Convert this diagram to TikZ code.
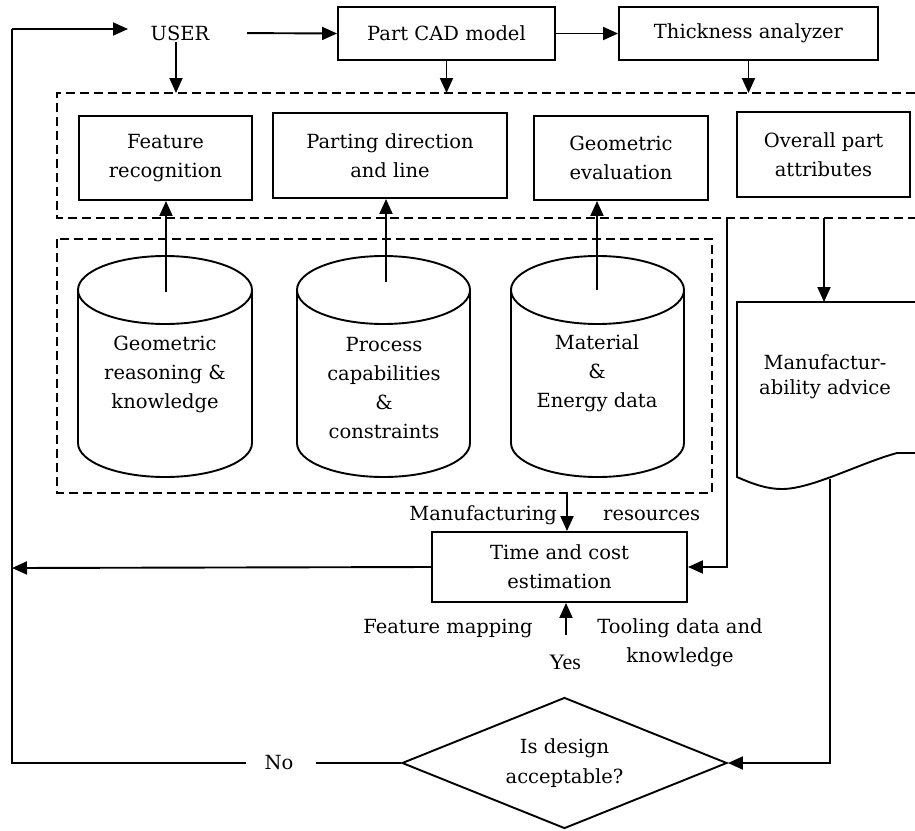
\documentclass[tikz,border=0pt]{standalone}
\usepackage{fontspec}
\setmainfont{DejaVu Serif}
\newfontfamily\yesfont{Liberation Serif}
\usetikzlibrary{arrows.meta,shapes.geometric}
\newcommand\txt{\fontsize{19.5}{29}\selectfont}
\tikzset{
  ln/.style={line width=1.9pt},
  arr/.style={ln,-{Triangle[length=15pt,width=13pt]}},
  dbox/.style={line width=1.8pt,dash pattern=on 9pt off 5pt},
  blk/.style={draw,line width=1.9pt,align=center,font=\txt,inner sep=0pt},
  lbl/.style={align=center,font=\txt,inner sep=1pt},
}
\begin{document}
\begin{tikzpicture}[x=1pt,y=-1pt]
\useasboundingbox (0,0) rectangle (915,830);

% top row
\node[lbl,minimum width=104pt] (user) at (180,33) {USER};
\node[blk,minimum width=217pt,minimum height=53pt] (cad) at (446.5,33.5) {Part CAD model};
\node[blk,minimum width=259pt,minimum height=53pt] (thick) at (748.5,33.5) {Thickness analyzer};

% upper dashed region
\draw[dbox] (915,93) -- (57,93) -- (57,218) -- (915,218);
\coordinate (uin) at (176,93);

\node[blk,minimum width=173pt,minimum height=84pt] (fr) at (165.5,158) {Feature\\recognition};
\node[blk,minimum width=234pt,minimum height=85pt] (pd) at (390,155.5) {Parting direction\\and line};
\node[blk,minimum width=174pt,minimum height=84pt] (ge) at (621,158) {Geometric\\evaluation};
\node[blk,minimum width=173pt,minimum height=85pt] (opa) at (823.5,154.5) {Overall part\\attributes};

% lower dashed region with data stores
\draw[dbox] (57,239) rectangle (712,493);

% cylinder 1
\draw[ln] (78,290) -- (78,443) arc[start angle=180,end angle=0,x radius=87,y radius=34] -- (252,290);
\draw[ln] (165,290) ellipse[x radius=87,y radius=34];
% cylinder 2
\draw[ln] (297,290) -- (297,443) arc[start angle=180,end angle=0,x radius=86.5,y radius=34] -- (470,290);
\draw[ln] (383.5,290) ellipse[x radius=86.5,y radius=34];
% cylinder 3
\draw[ln] (511,290) -- (511,443) arc[start angle=180,end angle=0,x radius=86.5,y radius=34] -- (684,290);
\draw[ln] (597.5,290) ellipse[x radius=86.5,y radius=34];

\node[lbl] (db1) at (165,374) {Geometric\\reasoning \&\\knowledge};
\node[lbl] (db2) at (384,388.5) {Process\\capabilities\\\&\\constraints};
\node[lbl] (db3) at (597,373) {Material\\\&\\Energy data};

\coordinate (c1) at (166,292);
\coordinate (c2) at (386,282);
\coordinate (c3) at (597,290);

% document
\draw[ln] (915,302) -- (737,302) -- (737,477)
  .. controls (755,485) and (768,489) .. (782,489)
  .. controls (812,489) and (860,463) .. (897,453) -- (915,453);
\node[lbl,font=\fontsize{19.5}{25}\selectfont] (adv) at (825,377) {Manufactur-\\ability advice};
\coordinate (advtop) at (824,302);
\coordinate (advbot) at (830,479);
\coordinate (opout) at (824,218);

% time and cost
\node[blk,minimum width=255pt,minimum height=70pt] (time) at (559.5,567) {Time and cost\\estimation};
\node[lbl,anchor=east] (manu) at (558,515) {Manufacturing};
\node[lbl,anchor=west] (res) at (602,515) {resources};
\coordinate (mres) at (567,493);
\node[lbl] (fmap) at (448,628) {Feature mapping};
\node[lbl] (tool) at (680,642.5) {Tooling data and\\knowledge};
\node[inner sep=1pt,font=\yesfont\fontsize{22}{24}\selectfont] (yes) at (565,662) {Yes};
\coordinate (yup) at (566,635);
\coordinate (vl) at (727,218);

% decision
\node[draw,ln,diamond,aspect=2.48,minimum width=325pt,minimum height=131pt,inner sep=0pt,align=center,font=\fontsize{19.5}{30}\selectfont] (dia) at (564.5,763) {Is design\\acceptable?};
\node[lbl] (no) at (279,763) {No};
\coordinate (lb) at (12,763);
\coordinate (lt) at (12,29);
\coordinate (uarr) at (128,29);
\coordinate (lret) at (12,568);

% connectors
\draw[arr] (lt) -- (uarr);
\draw[arr,shorten <=15pt] (user.east) -- (cad.west);
\draw[arr] (cad.east) -- (thick.west);
\draw[arr] (user.south -| uin) -- (uin);
\draw[arr] (cad.south) -- (cad.south |- uin);
\draw[arr] (thick.south) -- (thick.south |- uin);

\draw[arr] (c1) -- (c1 |- fr.south);
\draw[arr] (c2) -- (c2 |- pd.south);
\draw[arr] (c3) -- (c3 |- ge.south);

\draw[arr] (opout) -- (advtop);
\draw[arr] (vl) |- (time.east);
\draw[arr] (mres) -- (mres |- time.north);
\draw[arr] (yup) -- (yup |- time.south);
\draw[arr] (time.west) -- (lret);

\draw[arr] (advbot) |- (dia.east);
\draw[ln] (dia.west) -- ([xshift=21pt]no.east);
\draw[ln] ([xshift=-17pt]no.west) -- (lb) -- (lt);
\end{tikzpicture}
\end{document}
